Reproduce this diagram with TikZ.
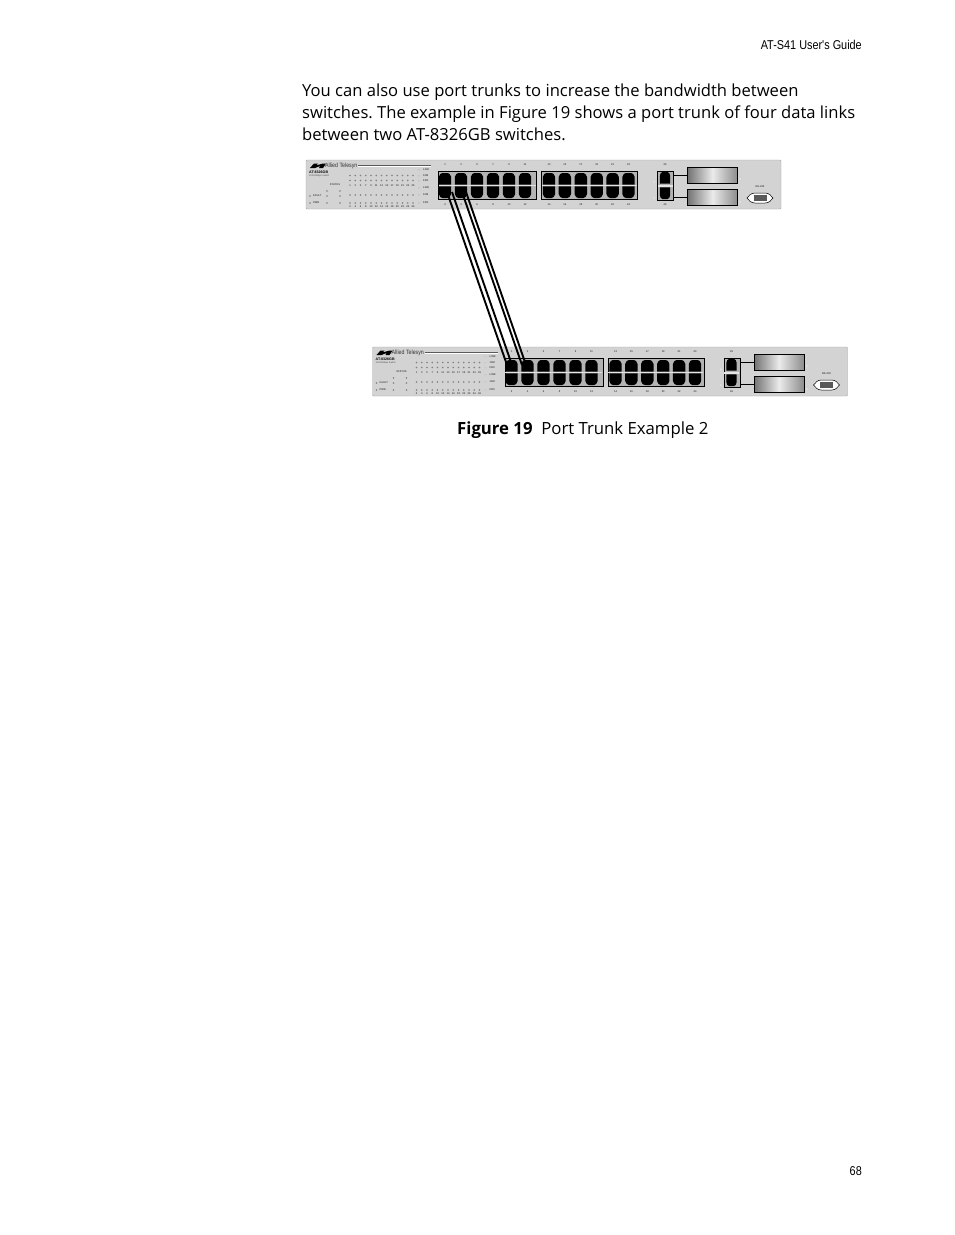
\documentclass[tikz,border=0pt]{standalone}
\usepackage{fontspec}
\setmainfont{Open Sans}
\setsansfont{Liberation Sans}
\newfontfamily\headfont[FakeStretch=0.85]{Liberation Sans}
\usepackage{tikz}
\usetikzlibrary{positioning}
\definecolor{bodygray}{HTML}{D3D3D3}
\definecolor{blockgray}{HTML}{B4B4B4}
\tikzset{
    tiny label/.style={font=\sffamily\bfseries\fontsize{2.6}{3}\selectfont, inner sep=0pt, text=black!70},
    side label/.style={tiny label, anchor=west},
    led/.style={circle, fill=black!50, inner sep=0pt, minimum size=1.7pt},
    whiteled/.style={circle, fill=white, draw=black!35, line width=0.2pt, inner sep=0pt, minimum size=2pt},
    portblock/.style={draw=black, line width=1pt, fill=blockgray, inner sep=0pt, anchor=north west},
    sfpbox/.style={draw=black, line width=1pt, inner sep=0pt, anchor=north west, minimum width=50pt, minimum height=16pt,
        left color=black!55, right color=black!45, middle color=black!8},
    trunk/.style={line width=1.9pt, black},
    pics/rjport/.style={code={
        \fill[black] (-#1,5.6) -- (-#1,-2) .. controls (-#1,-4.5) and (-3.5,-6) .. (-2.5,-6) -- (2.5,-6) .. controls (3.5,-6) and (#1,-4.5) .. (#1,-2) -- (#1,5.6) -- cycle;
    }},
    pics/atswitch/.style={code={
        % chassis
        \draw[black!35, fill=bodygray, rounded corners=1pt, line width=0.4pt] (0,0) rectangle (475,49);
        % logo and name
        \fill[black] (4,8) -- (8,3.5) -- (12,3.5) -- (10,5.5) -- (17,3.5) -- (20,3.5) -- (17,8) -- (13,8) -- (14,6) -- (9,8) -- cycle;
        \node[side label, font=\headfont\fontsize{6.2}{7}\selectfont, text=black!80] (-brand) at (19,5.5) {Allied Telesyn};
        \node[side label, font=\sffamily\bfseries\fontsize{3.6}{4.5}\selectfont, text=black] (-model) at (3,12) {AT-8326GB};
        \node[side label, font=\sffamily\fontsize{2.3}{2.5}\selectfont] (-sub) at (3,15.5) {10/100Mbps Switch};
        \draw[black!65, line width=0.7pt] (52,5) -- (125,5);
        \draw[white, line width=0.5pt] (52,6) -- (125,6);
        % status panel
        \node[tiny label] (-status) at (29,25) {STATUS};
        \node[side label] (-fault) at (7,36) {FAULT};
        \node[side label] (-pwr) at (7,43) {PWR};
        \foreach \ledx/\ledy/\ledname in {21/31/a,34/31/b,21/36/c,34/36/d,21/43/e,34/43/f,4/36/g,4/43/h}
            \node[led] (-st\ledname) at (\ledx,\ledy) {};
        % led rows and their numbers
        \foreach \col in {0,...,12} {
            \pgfmathtruncatemacro{\oddnum}{2*\col+1}
            \pgfmathtruncatemacro{\evennum}{2*\col+2}
            \node[led] (-la\col) at (44+5.25*\col,15.5) {};
            \node[led] (-lb\col) at (44+5.25*\col,20.5) {};
            \node[tiny label] (-na\col) at (44+5.25*\col,26) {\oddnum};
            \node[led] (-lc\col) at (44+5.25*\col,35) {};
            \node[led] (-ld\col) at (44+5.25*\col,43) {};
            \node[tiny label] (-nb\col) at (44+5.25*\col,47) {\evennum};
        }
        \foreach \rowy/\rowname/\rowtext in {10/a/LINK,16/b/10M/ACT,21/c/FDX/COL,28/d/LINK,35/e/10M/ACT,43/f/FDX/COL} {
            \node[whiteled] (-sl\rowname) at (113,\rowy) {};
            \node[side label] (-st\rowname) at (117,\rowy) {\rowtext};
        }
        % port blocks
        \node[portblock, minimum width=98pt, minimum height=28pt] (-blocka) at (132,11) {};
        \node[portblock, minimum width=96pt, minimum height=28pt] (-blockb) at (235,11) {};
        \node[portblock, minimum width=16pt, minimum height=29pt] (-blockc) at (351,11) {};
        \fill[black!10] (132.5,24.6) rectangle (229.5,26.4);
        \fill[black!10] (235.5,24.6) rectangle (330.5,26.4);
        \fill[black!10] (351.5,24.5) rectangle (366.5,27);
        \foreach \col in {0,...,5} {
            \pgfmathtruncatemacro{\upa}{2*\col+1}
            \pgfmathtruncatemacro{\dna}{2*\col+2}
            \pgfmathtruncatemacro{\upb}{2*\col+13}
            \pgfmathtruncatemacro{\dnb}{2*\col+14}
            \pic at (139+16*\col,19) {rjport=6.2};
            \pic[yscale=-1] at (139+16*\col,32) {rjport=6.2};
            \pic at (243+15.9*\col,19) {rjport=6.2};
            \pic[yscale=-1] at (243+15.9*\col,32) {rjport=6.2};
            \node[tiny label] (-pa\col) at (139+16*\col,4.5) {\upa};
            \node[tiny label] (-pb\col) at (139+16*\col,45) {\dna};
            \node[tiny label] (-pc\col) at (243+15.9*\col,4.5) {\upb};
            \node[tiny label] (-pd\col) at (243+15.9*\col,45) {\dnb};
        }
        % uplinks
        \pic at (359,18) {rjport=5.2};
        \pic[yscale=-1] at (359,33) {rjport=5.2};
        \node[tiny label] (-pe) at (359,4.5) {25};
        \node[tiny label] (-pf) at (359,45) {26};
        \node[sfpbox] (-sfpa) at (381,7) {};
        \node[sfpbox] (-sfpb) at (381,29) {};
        \draw[black, line width=0.8pt] (-sfpa.west) -- (-sfpa.west -| -blockc.east);
        \draw[black, line width=0.8pt] (-sfpb.west) -- (-sfpb.west -| -blockc.east);
        \foreach \ledx/\ledy/\ledname in {348/22/a,348/38/b,434/19/c,434/42/d}
            \node[whiteled, draw=black!20] (-sf\ledname) at (\ledx,\ledy) {};
        % serial port
        \node[tiny label] (-rs) at (454,27) {RS-232};
        \draw[black, fill=white, line width=0.5pt] (441,38) .. controls (443,35.5) and (445,33) .. (449,33) -- (459,33) .. controls (463,33) and (465,35.5) .. (467,38) .. controls (465,40.5) and (463,43) .. (459,43) -- (449,43) .. controls (445,43) and (443,40.5) .. (441,38) -- cycle;
        \fill[black!65] (447.5,35) rectangle (460.5,41);
    }}
}
\begin{document}
\frenchspacing
\begin{tikzpicture}[x=1pt,y=-1pt]
    \useasboundingbox (0,0) rectangle (954,1235);
    \fill[white] (0,0) rectangle (954,1235);

    \node[anchor=east, inner sep=0pt, font=\headfont\fontsize{12.8}{13}\selectfont] (header) at (862,45) {AT-S41 User's Guide};
    \node[anchor=north west, inner sep=0pt, align=left, font=\fontsize{16.6}{22}\selectfont] (para) at (302,84)
        {You can also use port trunks to increase the bandwidth between\\
        switches. The example in Figure 19 shows a port trunk of four data links\\
        between two AT-8326GB switches.};

    \pic (topsw) at (306,160) {atswitch};
    \pic (botsw) at (372.5,347) {atswitch};

    \draw[trunk] (447,192) -- (507,365);
    \draw[trunk] (452,192) -- (512,365);
    \draw[trunk] (462,192) -- (522,365);
    \draw[trunk] (466,192) -- (526,365);

    \node[anchor=west, inner sep=0pt, font=\fontsize{16.75}{20}\selectfont] (caption) at (457,430.5) {\textbf{Figure 19}\ \ Port Trunk Example 2};
    \node[anchor=east, inner sep=0pt, font=\headfont\fontsize{12.8}{13}\selectfont] (pagenum) at (862,1171) {68};
\end{tikzpicture}
\end{document}
